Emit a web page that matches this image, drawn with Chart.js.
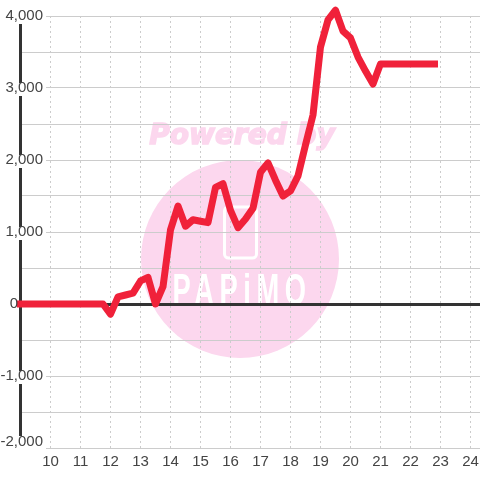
<!DOCTYPE html>
<html><head><meta charset="utf-8">
<style>html,body{margin:0;padding:0;background:#fff}#w{width:480px;height:480px}</style>
<script src="https://cdn.jsdelivr.net/npm/chart.js@4"></script>
</head><body><div id="w"><canvas id="c" width="480" height="480"></canvas></div>
<script>
const hours = [9,9.25,9.5,9.75,10,10.25,10.5,10.75,11,11.25,11.5,11.75,12,12.25,12.5,12.75,13,13.25,13.5,13.75,14,14.25,14.5,14.75,15,15.25,15.5,15.75,16,16.25,16.5,16.75,17,17.25,17.5,17.75,18,18.25,18.5,18.75,19,19.25,19.5,19.75,20,20.25,20.5,20.75,21,21.25,21.5,21.75,22,22.25,22.5,22.8];
const values = [0,0,0,0,0,0,0,0,0,0,0,0,-140,100,125,150,320,370,0,240,1030,1360,1080,1170,1150,1130,1620,1670,1300,1060,1180,1330,1830,1960,1720,1500,1570,1780,2210,2625,3570,3945,4080,3790,3695,3430,3235,3055,3335,3335,3335,3335,3335,3335,3335,3335];
const yMin = -2000, yMax = 4000, yStep = 500;
const xMin = 9, xMax = 24.3167;
const watermarkTop = "Powered by";
const watermarkLogo = "PAPiMO";

const watermark = {
  id:'watermark',
  beforeDraw(chart){
    const c = chart.ctx; c.save();
    c.fillStyle = '#fcd7ee';
    c.strokeStyle = '#fcd7ee';
    c.beginPath(); c.arc(240,259,99,0,Math.PI*2); c.fill();
    c.font = 'italic bold 28px "DejaVu Sans"';
    c.textAlign='center'; c.textBaseline='middle';
    c.lineWidth=1.5;
    c.strokeText(watermarkTop,242,137);
    c.fillText(watermarkTop,242,137);
    c.strokeStyle='#fff'; c.lineWidth=3;
    c.beginPath(); c.roundRect(224.5,207,32,51,4); c.stroke();
    c.fillStyle='#fff';
    c.translate(242,293); c.scale(0.62,1);
    c.font='bold 44px "Liberation Sans"'; c.letterSpacing='9px';
    c.fillText(watermarkLogo,0,0);
    c.restore();
  },
  beforeDatasetsDraw(chart){
    const c = chart.ctx; c.save();
    c.fillStyle='#fff';
    c.fillRect(18,436,28,13);
    c.restore();
  }
};

const isLabel = v => v % 1000 === 0;
new Chart(document.getElementById('c'),{
  type:'line',
  plugins:[watermark],
  data:{datasets:[{
    data:hours.map((h,i)=>({x:h,y:values[i]})),
    borderColor:'#f0213a',borderWidth:7,pointRadius:0,tension:0,clip:false,
    borderJoinStyle:'round',borderCapStyle:'square'
  }]},
  options:{
    responsive:false,animation:false,
    layout:{padding:{top:16,left:0,right:0,bottom:0}},
    plugins:{legend:{display:false},tooltip:{enabled:false}},
    scales:{
      x:{type:'linear',min:xMin,max:xMax,
        afterFit(s){s.height=32;s.paddingLeft=0;s.paddingRight=0},
        border:{display:false,dash:[2,3]},
        grid:{drawTicks:false,color:c=>c.tick&&c.tick.value===9?'transparent':'#ccc',lineWidth:1},
        ticks:{stepSize:1,includeBounds:false,autoSkip:false,maxRotation:0,padding:5,color:'#444',
          font:{size:15,family:'"Liberation Sans"'},
          callback:v=>v===9?'':String(v)}
      },
      y:{type:'linear',min:yMin,max:yMax,position:'left',
        afterFit(s){s.width=20.5;s.paddingTop=0;s.paddingBottom=0},
        border:{display:true,color:'#333',width:3},
        grid:{drawTicks:false,
          color:c=>c.tick&&c.tick.value===0?'#333':'#ccc',
          lineWidth:c=>c.tick&&c.tick.value===0?3:1},
        ticks:{z:1,stepSize:yStep,autoSkip:false,mirror:true,crossAlign:'far',padding:-20,color:'#444',
          showLabelBackdrop:true,
          backdropColor:c=>(c.tick.value===0||c.tick.value===yMin||!isLabel(c.tick.value))?'transparent':'#fff',
          backdropPadding:{top:-1.5,bottom:1.5,left:0,right:3},
          font:c=>({size:15,family:'"Liberation Sans"',lineHeight:c.tick&&c.tick.value===yMin?12/15:13/15}),
          callback:v=>{
            if(!isLabel(v))return '';
            if(v===0)return '0      ';
            const s=v.toLocaleString('en-US');
            return v===yMin?[s,'']:s;
          }}
      }
    }
  }
});
</script></body></html>
